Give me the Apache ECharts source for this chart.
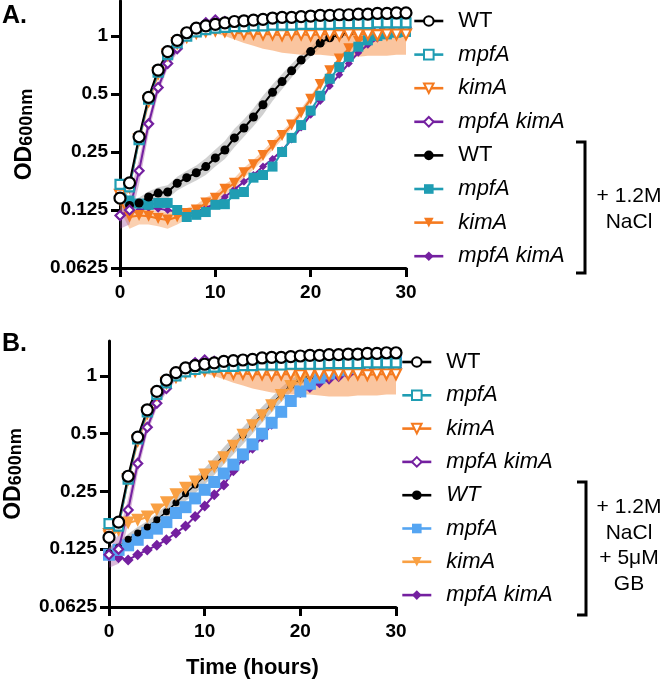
<!DOCTYPE html>
<html><head><meta charset="utf-8">
<script src="https://cdn.jsdelivr.net/npm/echarts@6/dist/echarts.min.js"></script>
<style>html,body{margin:0;padding:0;background:#fff}#c{width:666px;height:680px}</style>
</head><body><div id="c"></div>
<script>
// ---------- data ----------
const hours = [0,1,2,3,4,5,6,7,8,9,10,11,12,13,14,15,16,17,18,19,20,21,22,23,24,25,26,27,28,29,30];
const yTicks = [0.0625, 0.125, 0.25, 0.5, 1];
const xTicks = [0, 10, 20, 30];

// no salt (both panels)
const wt    = [0.144,0.173,0.30,0.48,0.666,0.83,0.95,1.04,1.10,1.13,1.15,1.17,1.19,1.20,1.21,1.22,1.24,1.25,1.25,1.26,1.27,1.28,1.28,1.29,1.29,1.30,1.30,1.31,1.31,1.32,1.32];
const mpfA  = [0.17,0.165,0.29,0.47,0.65,0.80,0.92,1.00,1.05,1.08,1.10,1.11,1.12,1.12,1.13,1.13,1.14,1.14,1.14,1.15,1.15,1.15,1.15,1.16,1.16,1.16,1.16,1.17,1.17,1.17,1.17];
const kimA  = [0.15,0.165,0.29,0.46,0.64,0.80,0.92,0.99,1.04,1.06,1.07,1.06,1.04,1.03,1.03,1.02,1.02,1.01,1.02,1.02,1.01,1.02,1.02,1.01,1.02,1.02,1.02,1.01,1.02,1.02,1.02];
const mk    = [0.117,0.125,0.20,0.35,0.54,0.72,0.86,1.00,1.10,1.17,1.21,1.19,1.16,1.15,1.14,1.13,1.12,1.12,1.12,1.12,1.12,1.12,1.11,1.11,1.11,1.11,1.11,1.11,1.11,1.11,1.11];
// + 1.2M NaCl (panel A)
const wtS   = [0.15,0.132,0.136,0.146,0.153,0.155,0.172,0.184,0.195,0.21,0.233,0.256,0.296,0.333,0.38,0.44,0.51,0.58,0.66,0.75,0.83,0.92,0.98,1.02,1.05,1.07,1.08,1.09,1.10,1.10,1.10];
const mpfAS = [0.165,0.14,0.135,0.133,0.136,0.136,0.125,0.115,0.118,0.122,0.133,0.134,0.151,0.155,0.184,0.19,0.21,0.25,0.296,0.345,0.41,0.49,0.60,0.69,0.78,0.88,0.95,1.00,1.02,1.04,1.05];
const kimAS = [0.14,0.115,0.117,0.116,0.113,0.111,0.115,0.12,0.125,0.136,0.144,0.16,0.172,0.195,0.215,0.24,0.27,0.305,0.345,0.40,0.47,0.56,0.66,0.76,0.86,0.94,0.99,1.01,1.02,1.03,1.03];
const mkS   = [0.115,0.12,0.125,0.128,0.127,0.125,0.122,0.12,0.122,0.128,0.135,0.146,0.16,0.175,0.19,0.21,0.23,0.255,0.29,0.335,0.39,0.46,0.55,0.63,0.72,0.82,0.90,0.97,1.02,1.05,1.07];
// + 1.2M NaCl + 5uM GB (panel B)
const wtG   = [0.12,0.128,0.141,0.152,0.163,0.178,0.196,0.218,0.243,0.27,0.30,0.34,0.385,0.435,0.49,0.555,0.63,0.71,0.80,0.89,0.96,1.00,1.04,1.07,1.09,1.11,1.13,1.15,1.16,1.17,1.18];
const mpfAG = [0.117,0.124,0.131,0.14,0.152,0.16,0.173,0.193,0.207,0.23,0.255,0.28,0.31,0.345,0.39,0.44,0.50,0.57,0.65,0.74,0.83,0.91,0.98,1.03,1.07,1.10,1.13,1.15,1.17,1.19,1.21];
const kimAG = [0.145,0.157,0.171,0.177,0.184,0.20,0.218,0.24,0.26,0.28,0.305,0.335,0.375,0.43,0.49,0.55,0.62,0.70,0.79,0.88,0.95,0.99,1.04,1.08,1.12,1.14,1.16,1.18,1.20,1.21,1.23];
const mkG   = [0.115,0.113,0.11,0.117,0.124,0.131,0.14,0.152,0.165,0.185,0.21,0.24,0.27,0.32,0.37,0.42,0.48,0.56,0.65,0.74,0.82,0.87,0.92,0.96,0.99,1.02,1.05,1.07,1.09,1.10,1.11];

// error bands (lower / upper)
const kimLo = [0.14,0.155,0.27,0.43,0.60,0.77,0.89,0.96,1.01,1.03,1.03,1.00,0.96,0.92,0.89,0.86,0.84,0.82,0.81,0.80,0.80,0.80,0.79,0.78,0.78,0.78,0.79,0.79,0.79,0.80,0.80];
const kimHi = [0.16,0.175,0.31,0.49,0.68,0.83,0.95,1.02,1.07,1.09,1.10,1.10,1.10,1.10,1.10,1.10,1.10,1.10,1.10,1.10,1.10,1.10,1.10,1.10,1.10,1.10,1.10,1.10,1.10,1.10,1.10];
const mkLo  = [0.10,0.105,0.17,0.31,0.50,0.68,0.82,0.95,1.05,1.10,1.12,1.10,1.08,1.07,1.06,1.06,1.05,1.05,1.05,1.05,1.05,1.05,1.05,1.05,1.05,1.05,1.05,1.05,1.05,1.05,1.05];
const mkHi  = [0.125,0.15,0.23,0.38,0.57,0.75,0.89,1.02,1.14,1.20,1.24,1.22,1.20,1.18,1.17,1.17,1.16,1.16,1.16,1.16,1.16,1.16,1.15,1.15,1.15,1.15,1.15,1.15,1.15,1.15,1.15];
const wtSLo = [0.14,0.125,0.128,0.136,0.142,0.143,0.158,0.168,0.178,0.19,0.21,0.23,0.265,0.30,0.34,0.39,0.46,0.53,0.61,0.70,0.78,0.87,0.94,0.99,1.02,1.04,1.05,1.06,1.07,1.07,1.07];
const wtSHi = [0.16,0.14,0.145,0.156,0.164,0.168,0.186,0.20,0.213,0.232,0.258,0.285,0.33,0.37,0.42,0.49,0.56,0.635,0.715,0.80,0.88,0.97,1.02,1.05,1.08,1.10,1.11,1.12,1.13,1.13,1.13];
const kimSLo = [0.125,0.10,0.105,0.105,0.103,0.10,0.105,0.112,0.118,0.128,0.136,0.15,0.162,0.184,0.203,0.227,0.255,0.29,0.33,0.38,0.45,0.54,0.64,0.74,0.84,0.92,0.97,0.99,1.00,1.01,1.01];
const kimSHi = [0.155,0.125,0.125,0.125,0.124,0.122,0.124,0.128,0.133,0.145,0.153,0.17,0.183,0.207,0.228,0.254,0.285,0.32,0.36,0.42,0.49,0.58,0.68,0.78,0.88,0.96,1.01,1.03,1.04,1.05,1.05];
const wtGLo = [0.113,0.12,0.132,0.142,0.152,0.165,0.18,0.20,0.222,0.245,0.272,0.305,0.345,0.39,0.44,0.50,0.57,0.645,0.73,0.82,0.90,0.95,0.99,1.02,1.05,1.07,1.09,1.11,1.12,1.13,1.14];
const wtGHi = [0.128,0.136,0.15,0.163,0.175,0.192,0.212,0.237,0.265,0.296,0.33,0.375,0.425,0.48,0.54,0.61,0.69,0.775,0.87,0.96,1.02,1.05,1.08,1.11,1.13,1.15,1.17,1.19,1.20,1.21,1.22];

const legendA = ['WT','mpfA','kimA','mpfA kimA','WT','mpfA','kimA','mpfA kimA'];
const legendB = ['WT','mpfA','kimA','mpfA kimA','WT','mpfA','kimA','mpfA kimA'];

// ---------- styles ----------
const FONT = "'Liberation Sans', Arial, Helvetica, sans-serif";
const BLACK = '#000000', TEAL = '#1f9db3', ORANGE = '#f57a1f', PURPLE = '#7420a0', BLUE = '#55a5f2', LORANGE = '#f9a043';

function pairs(arr){ return hours.map((h,i)=>[h, arr[i]]); }

function line(name, gi, arr, sym, size, color, open, lw, rot){
  return {
    name, type:'line', xAxisIndex:gi, yAxisIndex:gi, data:pairs(arr),
    symbol:sym, symbolSize:size, symbolRotate:rot||0, showAllSymbol:true,
    lineStyle:{color:color, width:lw||2},
    itemStyle: open ? {color:'#ffffff', borderColor:color, borderWidth:2.2, opacity:1}
                    : {color:color, borderColor:color, borderWidth:0, opacity:1},
    emphasis:{disabled:true}, z:3, animation:false
  };
}
function band(gi, lo, hi, fill){
  return {
    type:'custom', xAxisIndex:gi, yAxisIndex:gi, silent:true, z:1, animation:false,
    data:[[hours[0], lo[0]]],
    renderItem:function(params, api){
      const pts = [];
      for (let i=0;i<hours.length;i++) pts.push(api.coord([hours[i], hi[i]]));
      for (let i=hours.length-1;i>=0;i--) pts.push(api.coord([hours[i], lo[i]]));
      return {type:'polygon', shape:{points:pts}, style:{fill:fill}};
    }
  };
}

const series = [
  // panel A bands
  band(0, wtSLo, wtSHi, 'rgba(140,140,140,0.40)'),
  band(0, kimSLo, kimSHi, 'rgba(246,150,80,0.45)'),
  band(0, kimLo, kimHi, 'rgba(246,150,80,0.55)'),
  band(0, mkLo, mkHi, 'rgba(150,60,150,0.35)'),
  // panel A salt
  line('A7|mpfA kimA', 0, mkS, 'diamond', 8, PURPLE, false),
  line('A6|kimA', 0, kimAS, 'triangle', 11, ORANGE, false, 2, 180),
  line('A5|mpfA', 0, mpfAS, 'rect', 10, TEAL, false),
  line('A4|WT', 0, wtS, 'circle', 9, BLACK, false),
  // panel A no salt
  line('A3|mpfA kimA', 0, mk, 'diamond', 9, PURPLE, true),
  line('A2|kimA', 0, kimA, 'triangle', 10, ORANGE, true, 2, 180),
  line('A1|mpfA', 0, mpfA, 'rect', 9, TEAL, true),
  line('A0|WT', 0, wt, 'circle', 11, BLACK, true, 2),
  // panel B bands
  band(1, wtGLo, wtGHi, 'rgba(140,140,140,0.45)'),
  band(1, kimLo, kimHi, 'rgba(246,150,80,0.55)'),
  band(1, mkLo, mkHi, 'rgba(150,60,150,0.35)'),
  // panel B salt + GB
  line('B7|mpfA kimA', 1, mkG, 'diamond', 11, PURPLE, false),
  line('B5|mpfA', 1, mpfAG, 'rect', 12, BLUE, false),
  line('B4|WT', 1, wtG, 'circle', 7, BLACK, false, 1.5),
  line('B6|kimA', 1, kimAG, 'triangle', 13, LORANGE, false, 2, 180),
  // panel B no salt
  line('B3|mpfA kimA', 1, mk, 'diamond', 9, PURPLE, true),
  line('B2|kimA', 1, kimA, 'triangle', 10, ORANGE, true, 2, 180),
  line('B1|mpfA', 1, mpfA, 'rect', 9, TEAL, true),
  line('B0|WT', 1, wt, 'circle', 11, BLACK, true, 2)
];

function legendData(prefix, names, italicWT){
  return names.map((n,i)=>({
    name: prefix + i + '|' + n,
    textStyle:{fontStyle: (n==='WT' && !(italicWT && i>=4)) ? 'normal' : 'italic'}
  }));
}
function legend(prefix, names, left, top, gap, italicWT){
  return {
    orient:'vertical', left:left, top:top, padding:0, itemGap:gap, itemWidth:29, itemHeight:12,
    selectedMode:false, data:legendData(prefix, names, italicWT),
    formatter:(name)=>name.split('|')[1],
    lineStyle:{width:2.6},
    textStyle:{fontFamily:FONT, fontSize:22, lineHeight:22, color:'#000', padding:[0,0,0,10]}
  };
}

const axisLabelStyle = {fontFamily:FONT, fontSize:19, fontWeight:'bold', color:'#000'};
function xAxis(gi, withName){
  const a = {
    gridIndex:gi, type:'value', min:0, max:30, interval:10,
    axisLine:{onZero:false, lineStyle:{color:'#000', width:3}},
    axisTick:{length:9, lineStyle:{width:3, color:'#000'}},
    axisLabel:Object.assign({margin:15, formatter:(v)=>String(v)}, axisLabelStyle),
    splitLine:{show:false}
  };
  if (withName){
    a.name = 'Time (hours)'; a.nameLocation = 'middle'; a.nameGap = 50;
    a.nameTextStyle = {fontFamily:FONT, fontSize:22, fontWeight:'bold', color:'#000'};
  }
  return a;
}
function yAxis(gi){
  return {
    gridIndex:gi, type:'log', logBase:2, min:0.0625, max:1.52,
    axisLine:{show:true, onZero:false, lineStyle:{color:'#000', width:3}},
    axisTick:{show:true, length:9, lineStyle:{width:3, color:'#000'}, customValues:yTicks},
    axisLabel:Object.assign({margin:12, customValues:yTicks, formatter:(v)=>String(v)}, axisLabelStyle),
    splitLine:{show:false}, minorTick:{show:false},
    name:'{a|OD}{b|600nm}', nameLocation:'middle', nameRotate:90, nameGap:84,
    nameTextStyle:{rich:{
      a:{fontFamily:FONT, fontSize:23, fontWeight:'bold', color:'#000', verticalAlign:'bottom'},
      b:{fontFamily:FONT, fontSize:18, fontWeight:'bold', color:'#000', verticalAlign:'bottom'}
    }}
  };
}

function textAt(t, cx, cy){
  return {type:'text', x:cx, y:cy, style:{text:t, fontFamily:FONT, fontSize:21, fill:'#000', align:'center', verticalAlign:'middle'}};
}
function bracket(x, y1, y2){
  return {type:'polyline', shape:{points:[[x-9,y1],[x,y1],[x,y2],[x-9,y2]]}, style:{stroke:'#000', lineWidth:3, fill:null}};
}

const option = {
  backgroundColor:'#ffffff',
  animation:false,
  title:[
    {text:'A.', left:2, top:4, padding:0, textStyle:{fontFamily:FONT, fontSize:25, fontWeight:'bold', color:'#000'}},
    {text:'B.', left:2, top:332, padding:0, textStyle:{fontFamily:FONT, fontSize:25, fontWeight:'bold', color:'#000'}}
  ],
  grid:[
    {left:120, top:1, width:286, height:267},
    {left:109, top:341, width:287, height:266}
  ],
  xAxis:[xAxis(0,false), xAxis(1,true)],
  yAxis:[yAxis(0), yAxis(1)],
  legend:[
    legend('A', legendA, 413, 10, 11.6, false),
    legend('B', legendB, 401, 351, 11.3, true)
  ],
  graphic:[
    bracket(585, 142, 273),
    textAt('+ 1.2M', 629, 196),
    textAt('NaCl', 629, 222),
    bracket(586, 482, 615),
    textAt('+ 1.2M', 629, 507),
    textAt('NaCl', 629, 533),
    textAt('+ 5\u03bcM', 629, 558),
    textAt('GB', 629, 584)
  ],
  series:series
};

const chart = echarts.init(document.getElementById('c'), null, {renderer:'canvas'});
chart.setOption(option);
</script>
</body></html>
